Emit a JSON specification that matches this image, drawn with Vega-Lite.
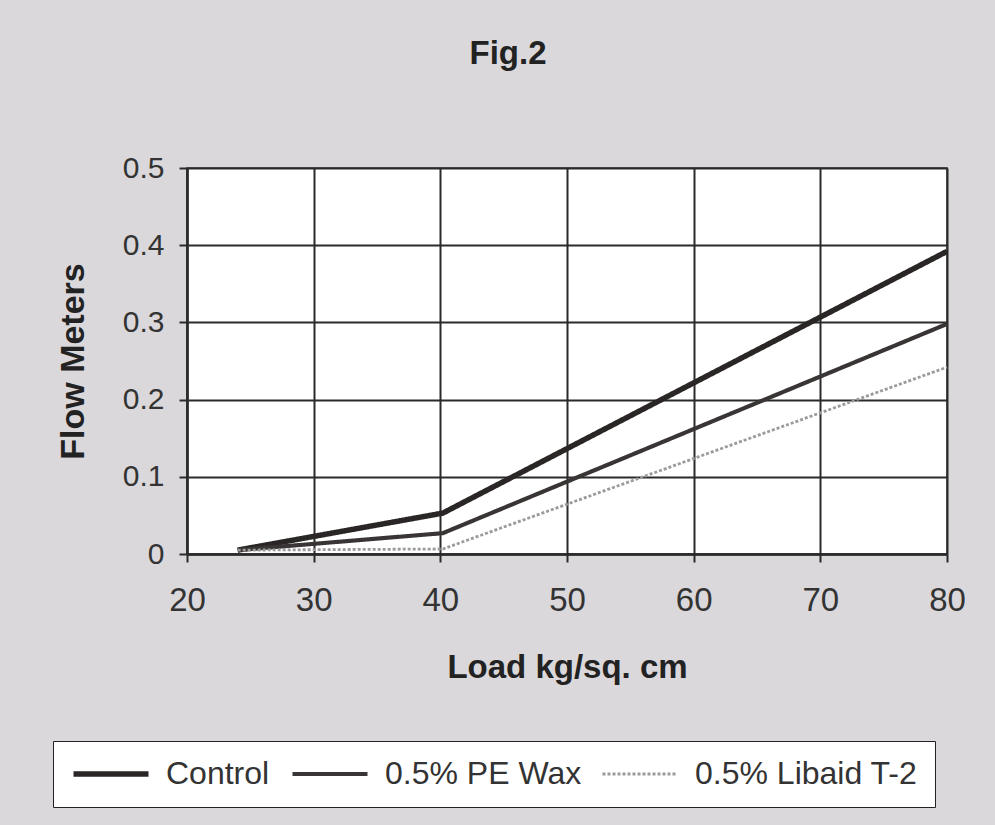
{
  "$schema": "https://vega.github.io/schema/vega-lite/v6.json",
  "width": 760,
  "height": 386,
  "autosize": "none",
  "padding": {"left": 187, "top": 168, "right": 48, "bottom": 271},
  "background": "#dad8db",
  "title": {
    "text": "Fig.2",
    "fontSize": 33,
    "fontWeight": "bold",
    "color": "#222222",
    "anchor": "middle",
    "frame": "group",
    "dx": -59,
    "offset": 82
  },
  "config": {
    "font": "Liberation Sans",
    "view": {"fill": "white", "stroke": "#333333", "strokeWidth": 1.5}
  },
  "data": {
    "values": [
      {"load": 24, "flow": 0.005, "series": "Control"},
      {"load": 40.2, "flow": 0.053, "series": "Control"},
      {"load": 80, "flow": 0.392, "series": "Control"},
      {"load": 24, "flow": 0.005, "series": "0.5% PE Wax"},
      {"load": 40.2, "flow": 0.027, "series": "0.5% PE Wax"},
      {"load": 80, "flow": 0.298, "series": "0.5% PE Wax"},
      {"load": 24, "flow": 0.005, "series": "0.5% Libaid T-2"},
      {"load": 40.2, "flow": 0.0065, "series": "0.5% Libaid T-2"},
      {"load": 80, "flow": 0.242, "series": "0.5% Libaid T-2"}
    ]
  },
  "mark": {"type": "line", "strokeCap": "butt", "strokeJoin": "miter"},
  "encoding": {
    "x": {
      "field": "load",
      "type": "quantitative",
      "scale": {"domain": [20, 80], "nice": false, "zero": false},
      "axis": {
        "values": [20, 30, 40, 50, 60, 70, 80],
        "title": "Load kg/sq. cm",
        "titleFontSize": 33,
        "titleFontWeight": "bold",
        "titleColor": "#222222",
        "titlePadding": 34,
        "labelFontSize": 33,
        "labelColor": "#333333",
        "labelPadding": 22,
        "labelFlush": false,
        "tickSize": 8,
        "tickWidth": 2,
        "tickColor": "#2a2a2a",
        "domainColor": "#2a2a2a",
        "domainWidth": 2.5,
        "grid": true,
        "gridColor": "#2a2a2a",
        "gridWidth": 2,
        "gridOpacity": 1
      }
    },
    "y": {
      "field": "flow",
      "type": "quantitative",
      "scale": {"domain": [0, 0.5], "nice": false},
      "axis": {
        "values": [0, 0.1, 0.2, 0.3, 0.4, 0.5],
        "labelExpr": "datum.value == 0 ? '0' : format(datum.value, '.1f')",
        "title": "Flow Meters",
        "titleFontSize": 34,
        "titleFontWeight": "bold",
        "titleColor": "#222222",
        "titlePadding": 32,
        "labelFontSize": 30,
        "labelColor": "#333333",
        "labelPadding": 15,
        "labelFlush": false,
        "tickSize": 8,
        "tickWidth": 2,
        "tickColor": "#2a2a2a",
        "domainColor": "#2a2a2a",
        "domainWidth": 2.5,
        "grid": true,
        "gridColor": "#2a2a2a",
        "gridWidth": 2,
        "gridOpacity": 1
      }
    },
    "color": {
      "field": "series",
      "type": "nominal",
      "scale": {"domain": ["Control", "0.5% PE Wax", "0.5% Libaid T-2"], "range": ["#2b2626", "#3a3535", "#9c9a9a"]},
      "legend": {
        "title": null,
        "orient": "none",
        "legendX": -134,
        "legendY": 573,
        "direction": "horizontal",
        "fillColor": "white",
        "strokeColor": "#222222",
        "padding": 17,
        "labelFontSize": 32,
        "labelColor": "#333333",
        "labelLimit": 600,
        "labelOffset": 64,
        "columnPadding": 14,
        "symbolType": "M-1,0H5",
        "symbolSize": 625,
        "symbolStrokeWidth": 2.2
      }
    },
    "strokeWidth": {
      "field": "series",
      "type": "nominal",
      "scale": {"domain": ["Control", "0.5% PE Wax", "0.5% Libaid T-2"], "range": [5.5, 2.8, 1.5]},
      "legend": null
    },
    "strokeDash": {
      "field": "series",
      "type": "nominal",
      "scale": {"domain": ["Control", "0.5% PE Wax", "0.5% Libaid T-2"], "range": [[1, 0], [1, 0], [3, 2]]},
      "legend": null
    }
  }
}
